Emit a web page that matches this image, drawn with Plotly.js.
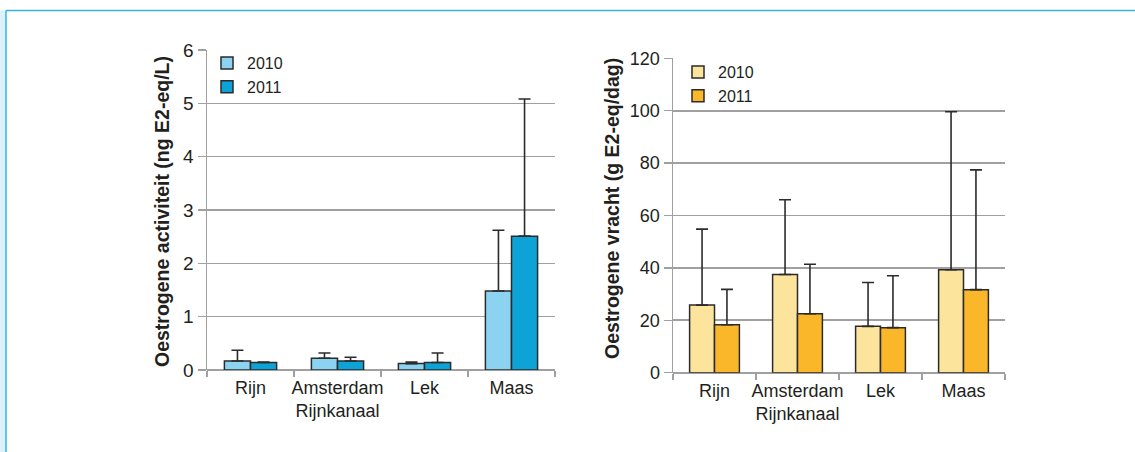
<!DOCTYPE html>
<html>
<head>
<meta charset="utf-8">
<script src="https://cdn.plot.ly/plotly-3.0.1.min.js"></script>
<style>html,body{margin:0;padding:0;background:#fff}#chart{width:1135px;height:452px}</style>
</head>
<body>
<div id="chart"></div>
<script>
// Categories
const categories = ["Rijn", "Amsterdam<br>Rijnkanaal", "Lek", "Maas"];
const years = ["2010", "2011"];

// Left: oestrogene activiteit (ng E2-eq/L)
const activity2010 = [0.17, 0.22, 0.12, 1.48];
const activity2010Upper = [0.37, 0.32, 0.15, 2.62];
const activity2011 = [0.14, 0.17, 0.14, 2.51];
const activity2011Upper = [0.15, 0.24, 0.32, 5.08];

// Right: oestrogene vracht (g E2-eq/dag)
const load2010 = [25.8, 37.5, 17.7, 39.3];
const load2010Upper = [54.8, 66.0, 34.4, 99.6];
const load2011 = [18.3, 22.5, 17.2, 31.7];
const load2011Upper = [31.8, 41.4, 37.0, 77.4];

const W = 1135, H = 452;
const px = v => v / W;
const py = v => (H - v) / H;

const textColor = '#231f20';
const gridColor = '#a0a0a0';
const FONT = 'Liberation Sans, Arial, sans-serif';

function diff(upper, val) { return upper.map((u, i) => Math.max(0, +(u - val[i]).toFixed(3))); }

function barTrace(name, y, upper, color, xa, ya, legend) {
  return {
    type: 'bar', name: name, x: categories, y: y,
    xaxis: xa, yaxis: ya, legend: legend,
    marker: {color: color, line: {color: '#2b2b2b', width: 1.5}},
    error_y: {type: 'data', symmetric: false, array: diff(upper, y),
      arrayminus: y.map(() => 0), color: '#2b2b2b', thickness: 1.6, width: 6},
    hoverinfo: 'y'
  };
}

const data = [
  barTrace(years[0], activity2010, activity2010Upper, '#8bd3f1', 'x', 'y', 'legend'),
  barTrace(years[1], activity2011, activity2011Upper, '#0ea3d6', 'x', 'y', 'legend'),
  barTrace(years[0], load2010, load2010Upper, '#fde49d', 'x2', 'y2', 'legend2'),
  barTrace(years[1], load2011, load2011Upper, '#fbb72a', 'x2', 'y2', 'legend2')
];

function xaxis(domain, anchor) {
  return {
    domain: domain, anchor: anchor, type: 'category', tickangle: 0,
    tickson: 'boundaries', ticks: 'outside', ticklen: 6, tickwidth: 1.5, tickcolor: gridColor,
    ticklabelstandoff: 5,
    showline: false, showgrid: false, zeroline: false,
    tickfont: {family: FONT, size: 18, color: textColor}, fixedrange: true
  };
}
function yaxis(domain, anchor, range, dtick, fs) {
  return {
    domain: domain, anchor: anchor, range: range, dtick: dtick,
    showline: true, linecolor: gridColor, linewidth: 1.5,
    showgrid: true, gridcolor: gridColor, gridwidth: 1.6,
    zeroline: true, zerolinecolor: gridColor, zerolinewidth: 1.6,
    ticks: 'outside', ticklen: 8, tickwidth: 1.5, tickcolor: gridColor,
    tickfont: {family: FONT, size: fs, color: textColor}, fixedrange: true
  };
}

const layout = {
  width: W, height: H,
  margin: {l: 0, r: 0, t: 0, b: 0},
  paper_bgcolor: '#ffffff', plot_bgcolor: '#ffffff',
  showlegend: true, barmode: 'group', bargap: 0.4, bargroupgap: 0,
  font: {family: FONT, color: textColor},
  xaxis: xaxis([px(207), px(555)], 'y'),
  yaxis: yaxis([py(370), py(50)], 'x', [0, 6], 1, 19),
  xaxis2: xaxis([px(673), px(1005)], 'y2'),
  yaxis2: yaxis([py(372.7), py(58.3)], 'x2', [0, 120], 20, 18),
  legend: {x: px(207), y: py(46), xanchor: 'left', yanchor: 'top', bgcolor: 'rgba(0,0,0,0)',
    font: {family: FONT, size: 16, color: textColor}, tracegroupgap: 0, itemwidth: 30},
  legend2: {x: px(678), y: py(55), xanchor: 'left', yanchor: 'top', bgcolor: 'rgba(0,0,0,0)',
    font: {family: FONT, size: 16, color: textColor}, tracegroupgap: 0, itemwidth: 30},
  annotations: [
    {xref: 'paper', yref: 'paper', x: px(162), y: py(212), xanchor: 'center', yanchor: 'middle',
     text: 'Oestrogene activiteit (ng E2-eq/L)',
     textangle: -90, showarrow: false, font: {family: FONT, size: 19.5, color: textColor, weight: 'bold'}},
    {xref: 'paper', yref: 'paper', x: px(612), y: py(209), xanchor: 'center', yanchor: 'middle',
     text: 'Oestrogene vracht (g E2-eq/dag)',
     textangle: -90, showarrow: false, font: {family: FONT, size: 19.5, color: textColor, weight: 'bold'}}
  ],
  shapes: [
    {type: 'rect', xref: 'paper', yref: 'paper', x0: 0, x1: px(6), y0: 0, y1: py(10.5),
     fillcolor: '#dcf1fb', line: {width: 0}, layer: 'below'},
    {type: 'line', xref: 'paper', yref: 'paper', x0: px(6), x1: 1, y0: py(10.5), y1: py(10.5),
     line: {color: '#35b3e6', width: 1.5}},
    {type: 'line', xref: 'paper', yref: 'paper', x0: px(6), x1: px(6), y0: 0, y1: py(10.5),
     line: {color: '#35b3e6', width: 1.5}}
  ]
};

Plotly.newPlot('chart', data, layout, {displayModeBar: false, staticPlot: true});
</script>
</body>
</html>
